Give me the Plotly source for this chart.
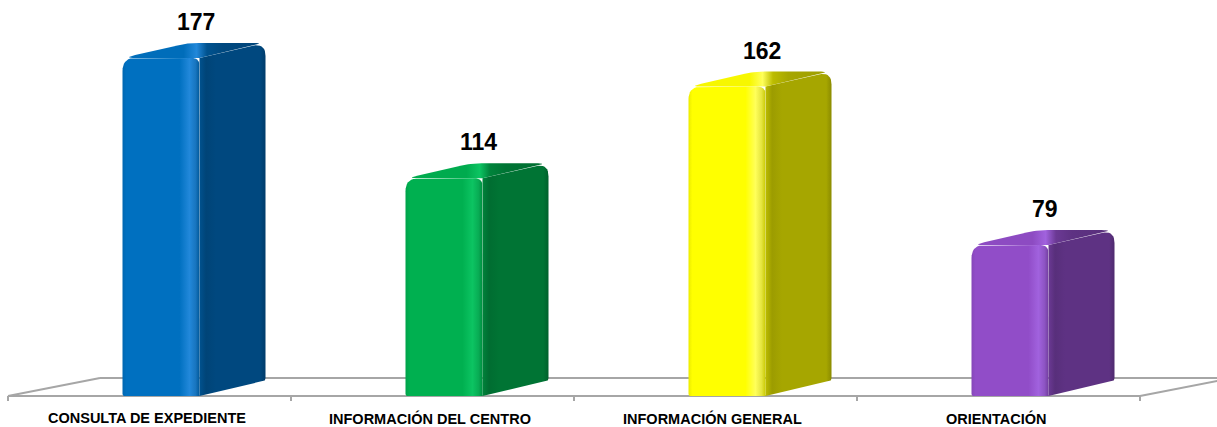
import numpy as np
import plotly.graph_objects as go

# ---- data -------------------------------------------------------------
categories = ["CONSULTA DE EXPEDIENTE", "INFORMACIÓN DEL CENTRO",
              "INFORMACIÓN GENERAL", "ORIENTACIÓN"]
values = [177, 114, 162, 79]

# face colours per bar: front body, front highlight, side body
front_colors = ["#0070C0", "#00B050", "#FFFF00", "#914DC8"]
light_colors = ["#2288DA", "#0CC462", "#FFFF5A", "#A162DE"]
side_colors = ["#00487F", "#007434", "#A6A600", "#5E3283"]

# ---- canvas geometry ----------------------------------------------------
W, H = 1217, 427
X_PX = 283.0      # pixels per category slot
Y_PX = 1.91       # pixels per value unit
X0_PX = 8.0       # left edge of the first slot
BASE_PX = 396.0   # baseline (front edge of the floor)

x_range = [-0.5 - X0_PX / X_PX, -0.5 + (W - X0_PX) / X_PX]
y_range = [-(H - BASE_PX) / Y_PX, BASE_PX / Y_PX]

# bar box in pixels, relative to the slot centre / baseline
FL, FR = -27.0, 50.0      # front face left / right
DX, DY = 66.0, 15.0       # depth offset of the box
R = 13.0                  # corner rounding
FLOOR_DX, FLOOR_DY = 92.0, 18.0


def mix(c1, c2, t):
    a = np.array([int(c1[k:k + 2], 16) for k in (1, 3, 5)], float)
    b = np.array([int(c2[k:k + 2], 16) for k in (1, 3, 5)], float)
    m = np.clip(np.round(a + (b - a) * t), 0, 255).astype(int)
    return "#%02x%02x%02x" % tuple(m)


def rounded(pts, radii, n=10):
    """Polygon with quadratic-rounded corners (pixel space)."""
    out = []
    N = len(pts)
    for k in range(N):
        p = np.array(pts[k], float)
        r = radii[k]
        if r <= 0:
            out.append(p)
            continue
        a = np.array(pts[k - 1], float)
        b = np.array(pts[(k + 1) % N], float)
        da, db = a - p, b - p
        la, lb = np.hypot(*da), np.hypot(*db)
        p1 = p + da / la * min(r, la / 2)
        p2 = p + db / lb * min(r, lb / 2)
        for t in np.linspace(0, 1, n):
            out.append((1 - t) ** 2 * p1 + 2 * (1 - t) * t * p + t ** 2 * p2)
    out.append(out[0])
    return np.array(out)


def to_data(i, pts):
    pts = np.asarray(pts)
    return i + pts[:, 0] / X_PX, pts[:, 1] / Y_PX


def face(i, pts, radii, scale):
    xs, ys = to_data(i, rounded(pts, radii))
    return go.Scatter(
        x=xs, y=ys, mode="lines", fill="toself",
        line=dict(width=0, color="rgba(0,0,0,0)"),
        fillgradient=dict(type="horizontal", colorscale=scale),
        hoverinfo="skip", showlegend=False,
    )


fig = go.Figure()

for i, v in enumerate(values):
    h = v * Y_PX
    fc, lc, sc = front_colors[i], light_colors[i], side_colors[i]
    fdark = mix(fc, "#000000", 0.08)
    sdark = mix(sc, "#000000", 0.16)

    side_scale = [[0, mix(fc, sc, 0.75)], [0.1, mix(sc, "#000000", 0.06)],
                  [0.25, sc], [0.92, sc], [1, sdark]]
    front_scale = [[0, fdark], [0.05, fc], [0.74, fc], [0.87, lc],
                   [0.95, mix(lc, sc, 0.3)], [1, mix(fc, sc, 0.6)]]
    top_c = mix(fc, "#000000", 0.03)
    top_scale = [[0, top_c], [0.42, top_c], [0.52, lc], [0.6, mix(sc, fc, 0.25)],
                 [0.72, sc], [1, mix(sc, "#000000", 0.05)]]

    # side face
    fig.add_trace(face(i, [(FR, 0), (FR + DX, DY), (FR + DX, h + DY), (FR, h)],
                       [0, 3, R, 0], side_scale))
    # top face
    fig.add_trace(face(i, [(FL, h), (FR, h), (FR + DX, h + DY), (FL + DX, h + DY)],
                       [R, 0, R, 10], top_scale))
    # front face
    fig.add_trace(face(i, [(FL, 0), (FR, 0), (FR, h), (FL, h)],
                       [2, 0, 8, R], front_scale))

# floor outline and slot ticks
floor_col = "#A6A6A6"
n = len(categories)
lx, rx = -0.5, n - 0.5
fdx, fdy = FLOOR_DX / X_PX, FLOOR_DY / Y_PX
shapes = [
    dict(type="line", x0=lx, y0=0, x1=rx, y1=0),
    dict(type="line", x0=lx, y0=0, x1=lx + fdx, y1=fdy),
    dict(type="line", x0=lx + fdx, y0=fdy, x1=rx + fdx, y1=fdy),
    dict(type="line", x0=rx, y0=0, x1=rx + fdx, y1=fdy),
]
for k in range(n + 1):
    shapes.append(dict(type="line", x0=lx + k, y0=0, x1=lx + k, y1=-5 / Y_PX))
for s in shapes:
    s.update(xref="x", yref="y", line=dict(color=floor_col, width=2), layer="below")

annotations = []
for i, v in enumerate(values):
    annotations.append(dict(
        x=i, y=v, xref="x", yref="y", text=f"<b>{v}</b>", showarrow=False,
        xshift=46, yshift=DY + 21, yanchor="middle",
        font=dict(family="Liberation Sans, Arial, sans-serif", size=23, color="#000000"),
    ))
for i, c in enumerate(categories):
    annotations.append(dict(
        x=i, y=0, xref="x", yref="y", text=f"<b>{c}</b>", showarrow=False,
        xshift=-3, yshift=-22, yanchor="middle",
        font=dict(family="Liberation Sans, Arial, sans-serif", size=14.5, color="#000000"),
    ))

fig.update_layout(
    width=W, height=H,
    margin=dict(l=0, r=0, t=0, b=0),
    paper_bgcolor="#FFFFFF", plot_bgcolor="#FFFFFF",
    xaxis=dict(range=x_range, visible=False, fixedrange=True),
    yaxis=dict(range=y_range, visible=False, fixedrange=True),
    shapes=shapes, annotations=annotations,
    showlegend=False,
)

fig.write_html("out.html")
